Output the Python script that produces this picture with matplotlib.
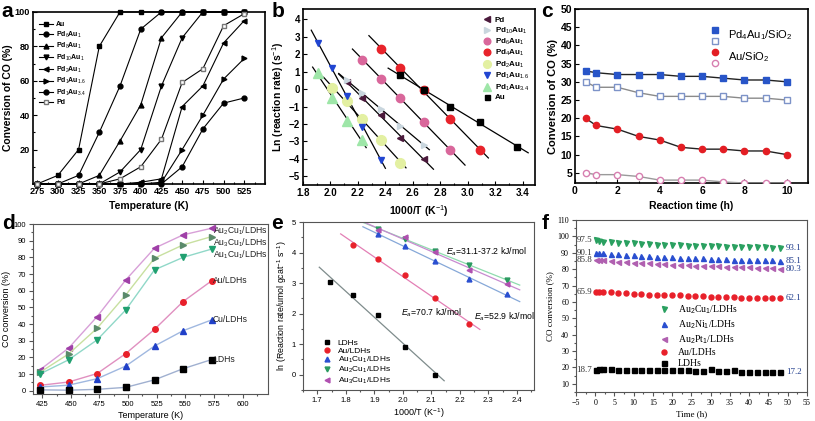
import numpy as np
import matplotlib.pyplot as plt
import matplotlib as mpl
from matplotlib.ticker import MultipleLocator

# =========================================================
# CO OXIDATION - SIX PANEL FIGURE
# =========================================================

mpl.rcParams['font.family'] = ['Liberation Sans', 'DejaVu Sans']
mpl.rcParams['mathtext.fontset'] = 'custom'
mpl.rcParams['mathtext.rm'] = 'Liberation Sans'
mpl.rcParams['mathtext.it'] = 'Liberation Sans:italic'
mpl.rcParams['mathtext.bf'] = 'Liberation Sans:bold'

# -----------------------------
# DATA - panel a
# -----------------------------
temp_a = [275, 300, 325, 350, 375, 400, 425, 450, 475, 500, 525]
a_labels = ["Au", "Pd$_6$Au$_1$", "Pd$_8$Au$_1$", "Pd$_{10}$Au$_1$", "Pd$_2$Au$_1$",
            "Pd$_1$Au$_{1.6}$", "Pd$_1$Au$_{3.4}$", "Pd"]
a_au = [0, 5, 20, 80, 100, 100, 100, 100, 100, 100, 100]
a_pd6au1 = [0, 0, 5, 30, 57, 90, 100, 100, 100, 100, 100]
a_pd8au1 = [0, 0, 0, 5, 25, 46, 85, 100, 100, 100, 100]
a_pd10au1 = [0, 0, 0, 0, 7, 20, 57, 85, 100, 100, 100]
a_pd2au1 = [0, 0, 0, 0, 0, 1, 3, 45, 57, 82, 95]
a_pd1au16 = [0, 0, 0, 0, 0, 0, 1, 20, 40, 61, 73]
a_pd1au34 = [0, 0, 0, 0, 0, 0, 0, 10, 32, 47, 50]
a_pd = [0, 0, 0, 0, 3, 10, 26, 59, 67, 92, 99]

# -----------------------------
# DATA - panel b (Arrhenius)
# -----------------------------
b_labels = ["Pd", "Pd$_{10}$Au$_1$", "Pd$_6$Au$_1$", "Pd$_4$Au$_1$", "Pd$_2$Au$_1$",
            "Pd$_1$Au$_{1.6}$", "Pd$_1$Au$_{3.4}$", "Au"]
b_x_pd = [2.12, 2.23, 2.37, 2.51, 2.68]
b_y_pd = [0.4, -0.5, -1.5, -2.8, -4.0]
b_x_pd10 = [2.12, 2.23, 2.37, 2.51, 2.68]
b_y_pd10 = [0.5, -0.22, -1.15, -2.1, -3.2]
b_x_pd6 = [2.23, 2.37, 2.51, 2.68, 2.87]
b_y_pd6 = [1.7, 0.6, -0.5, -1.9, -3.5]
b_x_pd4 = [2.37, 2.51, 2.68, 2.87, 3.09]
b_y_pd4 = [2.3, 1.2, -0.05, -1.7, -3.5]
b_x_pd2 = [2.01, 2.12, 2.23, 2.37, 2.51]
b_y_pd2 = [0.05, -0.7, -1.7, -2.9, -4.25]
b_x_pd16 = [1.91, 2.01, 2.12, 2.23, 2.37]
b_y_pd16 = [2.65, 1.2, -0.4, -2.15, -4.05]
b_x_pd34 = [1.91, 2.01, 2.12, 2.23]
b_y_pd34 = [0.9, -0.5, -1.8, -2.9]
b_x_au = [2.51, 2.68, 2.87, 3.09, 3.36]
b_y_au = [0.8, -0.05, -1.0, -1.9, -3.3]
# x extent of each fitted line
b_fit_range = [(2.06, 2.75), (2.06, 2.72), (2.16, 2.98), (2.28, 3.15),
               (1.95, 2.55), (1.86, 2.40), (1.87, 2.26), (2.42, 3.44)]

# -----------------------------
# DATA - panel c (stability)
# -----------------------------
time_c = [0.5, 1, 2, 3, 4, 5, 6, 7, 8, 9, 10]
c_pd4au1_a = [33, 32.5, 32, 32, 32, 31.5, 31.5, 31, 30.5, 30.5, 30]
c_pd4au1_b = [30, 28.5, 28.5, 27, 26, 26, 26, 26, 25.5, 25.5, 25]
c_au_a = [20, 18, 17, 15, 14, 12, 11.5, 11.5, 11, 11, 10]
c_au_b = [5, 4.5, 4.5, 4, 3, 3, 3, 2.5, 2.2, 2.2, 2.2]

# -----------------------------
# DATA - panel d (LDHs light-off)
# -----------------------------
temp_d = [423, 448, 473, 498, 523, 548, 573]
d_labels = ["Au$_2$Cu$_1$/LDHs", "Au$_3$Cu$_1$/LDHs", "Au$_1$Cu$_1$/LDHs",
            "Au/LDHs", "Cu/LDHs", "LDHs"]
d_au2cu1 = [12.5, 25.5, 44.5, 66.5, 85.5, 93.5, 97.5]
d_au3cu1 = [11, 22, 37.5, 57.5, 79.5, 87.5, 92.5]
d_au1cu1 = [10, 18.5, 30.5, 48.5, 72.5, 80, 85]
d_au = [3.2, 5.2, 10.3, 22.3, 36.8, 53.5, 66]
d_cu = [2.2, 3.3, 7.2, 14.8, 26.8, 36, 42.5]
d_ldh = [0.5, 0.3, 0.8, 2, 6.5, 13.2, 18.7]
d_label_y = [96, 89, 81.5, 66, 42.7, 18.5]

# -----------------------------
# DATA - panel e (Arrhenius, LDHs)
# -----------------------------
e_labels = ["LDHs", "Au/LDHs", "Au$_1$Cu$_1$/LDHs", "Au$_2$Cu$_1$/LDHs", "Au$_3$Cu$_1$/LDHs"]
e_x_ldh = [1.745, 1.825, 1.912, 2.008, 2.114]
e_y_ldh = [3.05, 2.6, 1.96, 0.92, 0.0]
e_x_au = [1.825, 1.912, 2.008, 2.114, 2.232]
e_y_au = [4.25, 3.8, 3.27, 2.52, 1.65]
e_x_cu = [1.912, 2.008, 2.114, 2.232, 2.364]
e_y_au1cu1 = [4.6, 4.22, 3.72, 3.13, 2.63]
e_y_au2cu1 = [4.78, 4.45, 4.05, 3.6, 3.1]
e_y_au3cu1 = [4.73, 4.5, 4.02, 3.43, 2.98]
e_fit_range = [(1.707, 2.145), (1.782, 2.27), (1.86, 2.41), (1.86, 2.41), (1.86, 2.41)]
e_notes = ["$E_a$=70.7 kJ/mol", "$E_a$=52.9 kJ/mol", "$E_a$=31.1-37.2 kJ/mol"]

# -----------------------------
# DATA - panel f (long-term stability)
# -----------------------------
time_f = [0.3, 1, 2] + list(range(4, 50, 2))
f_labels = ["Au$_2$Cu$_1$/LDHs", "Au$_2$Ni$_1$/LDHs", "Au$_2$Pt$_1$/LDHs", "Au/LDHs", "LDHs"]
f_au2cu1 = [97.5, 97.0, 96.8, 96.5, 96.0, 95.8, 95.8, 95.6, 95.2, 95.0, 94.8, 94.8, 94.7,
            94.3, 94.2, 94.0, 94.0, 94.0, 93.8, 93.5, 93.5, 93.3, 93.3, 93.2, 93.1, 93.1]
f_au2ni1 = [90.1, 90.0, 89.6, 89.2, 89.0, 88.6, 88.4, 88.0, 88.0, 87.7, 87.6, 87.3, 87.0,
            86.8, 87.0, 86.5, 86.2, 86.0, 85.9, 85.8, 85.6, 85.5, 85.5, 85.4, 85.3, 85.1]
f_au2pt1 = [85.8, 85.5, 85.4, 85.0, 84.6, 84.4, 84.0, 83.8, 83.5, 83.3, 83.3, 82.8, 82.5,
            82.3, 82.1, 82.0, 81.8, 81.6, 81.5, 81.3, 81.2, 81.0, 80.8, 80.6, 80.4, 80.3]
f_au = [65.9, 66.0, 66.1, 65.9, 65.6, 65.3, 65.0, 64.8, 64.5, 64.4, 64.2, 64.0, 63.9,
        63.6, 63.5, 63.3, 63.2, 63.0, 62.9, 62.8, 62.6, 62.5, 62.4, 62.3, 62.2, 62.1]
f_ldh = [18.7, 18.9, 19.0, 18.9, 18.7, 18.6, 18.5, 18.6, 18.4, 18.4, 18.3, 18.3, 18.2,
         18.2, 18.1, 18.0, 18.9, 17.8, 17.7, 18.7, 17.5, 17.4, 17.3, 17.2, 17.2, 17.2]
f_start = ["97.5", "90.1", "85.8", "65.9", "18.7"]
f_end = ["93.1", "85.1", "80.3", "62.1", "17.2"]

# =========================================================
# FIGURE
# =========================================================
fig = plt.figure(figsize=(8.15, 4.21), dpi=100)
fig.patch.set_facecolor('white')

ax_a = fig.add_axes([0.0405, 0.563, 0.2847, 0.4086])
ax_b = fig.add_axes([0.3718, 0.5606, 0.2847, 0.418])
ax_c = fig.add_axes([0.7055, 0.5653, 0.2859, 0.4133])
ax_d = fig.add_axes([0.0405, 0.0641, 0.2883, 0.4038])
ax_e = fig.add_axes([0.3718, 0.0736, 0.2834, 0.399])
ax_f = fig.add_axes([0.7067, 0.0689, 0.2834, 0.4086])


def origin_style(ax, lw=1.2, color='black', size=7, bold=True):
    for s in ax.spines.values():
        s.set_linewidth(lw)
        s.set_color(color)
    ax.tick_params(which='both', direction='in', top=False, right=False,
                   labelsize=size, width=0.8, color=color, pad=2)
    ax.tick_params(which='major', length=3)
    ax.tick_params(which='minor', length=1.5)
    if bold:
        for lab in ax.get_xticklabels() + ax.get_yticklabels():
            lab.set_fontweight('bold')


# -----------------------------
# PANEL a
# -----------------------------
a_series = [a_au, a_pd6au1, a_pd8au1, a_pd10au1, a_pd2au1, a_pd1au16, a_pd1au34, a_pd]
a_markers = ['s', 'o', '^', 'v', '<', '>', 'o', 's']
for vals, mk, lab in zip(a_series, a_markers, a_labels):
    if lab == "Pd":
        ax_a.plot(temp_a, vals, marker=mk, color='black', lw=0.8, ms=3.5,
                  mfc='white', mec='#777777', label=lab, clip_on=False, zorder=3)
    else:
        ax_a.plot(temp_a, vals, marker=mk, color='black', lw=0.8, ms=3.5,
                  label=lab, clip_on=False)
ax_a.set_xlim(270, 550)
ax_a.set_ylim(0, 100)
ax_a.set_xticks(range(275, 526, 25))
ax_a.set_yticks([20, 40, 60, 80, 100])
ax_a.xaxis.set_minor_locator(MultipleLocator(12.5))
ax_a.yaxis.set_minor_locator(MultipleLocator(10))
origin_style(ax_a, size=6.6)
ax_a.set_xlabel("Temperature (K)", fontsize=7.5, fontweight='bold', labelpad=4)
ax_a.set_ylabel("Conversion of CO (%)", fontsize=7.5, fontweight='bold', labelpad=1)
leg = ax_a.legend(loc='upper left', bbox_to_anchor=(0.01, 0.97), frameon=False,
                  fontsize=5, handlelength=2.0, labelspacing=0.2, handletextpad=0.4,
                  borderaxespad=0.2)
for t in leg.get_texts():
    t.set_fontweight('bold')

# -----------------------------
# PANEL b
# -----------------------------
b_xs = [b_x_pd, b_x_pd10, b_x_pd6, b_x_pd4, b_x_pd2, b_x_pd16, b_x_pd34, b_x_au]
b_ys = [b_y_pd, b_y_pd10, b_y_pd6, b_y_pd4, b_y_pd2, b_y_pd16, b_y_pd34, b_y_au]
b_markers = ['<', '>', 'o', 'o', 'o', 'v', '^', 's']
b_colors = ['#4b1a3c', '#c9d6de', '#d9679b', '#e8232b', '#e3f0a2', '#2145d1', '#9ee6a8', 'black']
b_sizes = [5, 5, 6, 6, 7, 5, 7, 4.5]
for xs, ys, rng in zip(b_xs, b_ys, b_fit_range):
    k, c0 = np.polyfit(xs, ys, 1)
    xx = np.array(rng)
    ax_b.plot(xx, k * xx + c0, color='black', lw=0.9, zorder=2)
for xs, ys, mk, col, ms, lab in zip(b_xs, b_ys, b_markers, b_colors, b_sizes, b_labels):
    ax_b.plot(xs, ys, ls='none', marker=mk, color=col, ms=ms, label=lab, zorder=3)
ax_b.set_xlim(1.8, 3.49)
ax_b.set_ylim(-5.5, 4.6)
ax_b.xaxis.set_major_locator(MultipleLocator(0.2))
ax_b.xaxis.set_minor_locator(MultipleLocator(0.1))
ax_b.set_yticks(range(-5, 5))
ax_b.xaxis.set_major_formatter(mpl.ticker.FormatStrFormatter('%.1f'))
origin_style(ax_b, size=7)
ax_b.set_xlabel("1000/T (K$^{-1}$)", fontsize=7.5, fontweight='bold', labelpad=4)
ax_b.set_ylabel("Ln (reaction rate) (s$^{-1}$)", fontsize=7.5, fontweight='bold', labelpad=2)
leg = ax_b.legend(loc='upper right', bbox_to_anchor=(0.995, 0.985), frameon=False,
                  fontsize=5.8, handlelength=0.8, labelspacing=0.15, handletextpad=0.6,
                  borderaxespad=0.2, markerscale=0.8)
for t in leg.get_texts():
    t.set_fontweight('bold')

# -----------------------------
# PANEL c
# -----------------------------
ax_c.plot(time_c, c_pd4au1_a, color='#222222', lw=1, marker='s', ms=4,
          mfc='#2855c8', mec='#2855c8', zorder=3)
ax_c.plot(time_c, c_pd4au1_b, color='#8a8a8a', lw=1, marker='s', ms=4,
          mfc='white', mec='#7d93c8', zorder=3)
ax_c.plot(time_c, c_au_a, color='#222222', lw=1, marker='o', ms=4.5,
          mfc='#e31e24', mec='#e31e24', zorder=3)
ax_c.plot(time_c, c_au_b, color='#9a9a9a', lw=1, marker='o', ms=4.5,
          mfc='white', mec='#d77fb0', zorder=3)
ax_c.set_xlim(0, 11)
ax_c.set_ylim(2.2, 50)
ax_c.set_xticks(range(0, 11, 2))
ax_c.set_yticks(range(5, 51, 5))
ax_c.xaxis.set_minor_locator(MultipleLocator(1))
origin_style(ax_c, size=7.5)
ax_c.set_xlabel("Reaction time (h)", fontsize=7.5, fontweight='bold', labelpad=4)
ax_c.set_ylabel("Conversion of CO (%)", fontsize=8, fontweight='bold', labelpad=2)
# legend drawn by hand: two markers share one label
c_leg_marks = [('s', '#2855c8', '#2855c8', 0.88), ('s', 'white', '#7d93c8', 0.815),
               ('o', '#e31e24', '#e31e24', 0.755), ('o', 'white', '#d77fb0', 0.69)]
for mk, fc, ec, yy in c_leg_marks:
    ax_c.plot([0.6], [yy], transform=ax_c.transAxes, marker=mk, ms=4.5, mfc=fc, mec=ec,
              ls='none', clip_on=False)
ax_c.text(0.655, 0.848, "Pd$_4$Au$_1$/SiO$_2$", transform=ax_c.transAxes,
          fontsize=8, va='center')
ax_c.text(0.655, 0.722, "Au/SiO$_2$", transform=ax_c.transAxes, fontsize=8, va='center')

# -----------------------------
# PANEL d
# -----------------------------
d_series = [d_au2cu1, d_au3cu1, d_au1cu1, d_au, d_cu, d_ldh]
d_markers = ['<', '>', 'v', 'o', '^', 's']
d_mcolors = ['#a040a8', '#5a8a6a', '#20a070', '#e8202a', '#2040c8', 'black']
d_lcolors = ['#d8a0d8', '#c8e0a0', '#90d8c8', '#e090c0', '#a0b8e0', '#a0b0d0']
for vals, mk, mc, lc in zip(d_series, d_markers, d_mcolors, d_lcolors):
    ax_d.plot(temp_d, vals, color=lc, lw=1, marker=mk, ms=4, mfc=mc, mec=mc)
for lab, yy in zip(d_labels, d_label_y):
    ax_d.text(temp_d[-1] + 1, yy, lab, fontsize=6.2, va='center', color='#222222')
ax_d.set_xlim(417, 622)
ax_d.set_ylim(-2, 100)
ax_d.set_xticks(range(425, 601, 25))
ax_d.set_yticks(range(0, 101, 10))
ax_d.xaxis.set_minor_locator(MultipleLocator(12.5))
ax_d.yaxis.set_minor_locator(MultipleLocator(5))
origin_style(ax_d, lw=0.8, color='#555555', size=5.5, bold=False)
ax_d.tick_params(which='both', direction='out')
ax_d.set_xlabel("Temperature (K)", fontsize=6.5, labelpad=2)
ax_d.set_ylabel("CO conversion (%)", fontsize=6.5, labelpad=2)

# -----------------------------
# PANEL e
# -----------------------------
e_xs = [e_x_ldh, e_x_au, e_x_cu, e_x_cu, e_x_cu]
e_ys = [e_y_ldh, e_y_au, e_y_au1cu1, e_y_au2cu1, e_y_au3cu1]
e_markers = ['s', 'o', '^', 'v', '<']
e_mcolors = ['black', '#e8202a', '#2a4fd0', '#2a9a60', '#b050b0']
e_lcolors = ['#7f8c8c', '#e37fb5', '#86a8d8', '#8fdcae', '#c88ad0']
for xs, ys, rng, lc in zip(e_xs, e_ys, e_fit_range, e_lcolors):
    k, c0 = np.polyfit(xs, ys, 1)
    xx = np.array(rng)
    ax_e.plot(xx, k * xx + c0, color=lc, lw=0.9, zorder=2)
for xs, ys, mk, mc, lab in zip(e_xs, e_ys, e_markers, e_mcolors, e_labels):
    ax_e.plot(xs, ys, ls='none', marker=mk, color=mc, ms=3.5, label=lab, zorder=3)
ax_e.text(1.994, 2.02, e_notes[0], fontsize=6.3, va='center')
ax_e.text(2.25, 1.89, e_notes[1], fontsize=6.3, va='center')
ax_e.text(2.152, 4.04, e_notes[2], fontsize=6.3, va='center')
ax_e.set_xlim(1.65, 2.46)
ax_e.set_ylim(-0.5, 5)
ax_e.xaxis.set_major_locator(MultipleLocator(0.1))
ax_e.xaxis.set_minor_locator(MultipleLocator(0.05))
ax_e.yaxis.set_minor_locator(MultipleLocator(0.5))
ax_e.set_yticks(range(0, 6))
ax_e.xaxis.set_major_formatter(mpl.ticker.FormatStrFormatter('%.1f'))
origin_style(ax_e, lw=0.8, color='#555555', size=5.5, bold=False)
ax_e.tick_params(which='both', direction='out')
ax_e.set_xlabel("1000/T (K$^{-1}$)", fontsize=6.5, labelpad=2)
ax_e.set_ylabel("ln (Reaction rate/umol gcat$^{-1}$ s$^{-1}$)", fontsize=6.3, labelpad=2)
ax_e.legend(loc='lower left', bbox_to_anchor=(0.07, 0.0), frameon=False, fontsize=6,
            handlelength=0.8, labelspacing=0.02, handletextpad=0.9, borderaxespad=0.1)

# -----------------------------
# PANEL f
# -----------------------------
serif = ['Liberation Serif', 'DejaVu Serif']
f_series = [f_au2cu1, f_au2ni1, f_au2pt1, f_au, f_ldh]
f_markers = ['v', '^', '<', 'o', 's']
f_colors = ['#2aa060', '#2a4fd0', '#b060b0', '#e8202a', 'black']
for vals, mk, col, lab, s0, s1 in zip(f_series, f_markers, f_colors, f_labels, f_start, f_end):
    ax_f.plot(time_f, vals, ls='none', marker=mk, color=col, ms=3.6, label=lab)
    ax_f.text(-0.8, vals[0], s0, fontsize=6.5, family=serif, ha='right', va='center',
              color='#333333')
    ax_f.text(49.5, vals[-1], s1, fontsize=6.5, family=serif, ha='left', va='center',
              color='#1f3c8c')
ax_f.set_xlim(-5, 55)
ax_f.set_ylim(5, 110)
ax_f.set_xticks(range(-5, 56, 5))
ax_f.set_yticks(range(10, 111, 10))
ax_f.xaxis.set_minor_locator(MultipleLocator(2.5))
ax_f.yaxis.set_minor_locator(MultipleLocator(5))
origin_style(ax_f, lw=0.8, color='#555555', size=5.8, bold=False)
ax_f.tick_params(which='both', direction='out')
for lab in ax_f.get_xticklabels() + ax_f.get_yticklabels():
    lab.set_family(serif)
ax_f.set_xlabel("Time (h)", fontsize=6.5, family=serif, labelpad=2)
ax_f.set_ylabel("CO conversion (%)", fontsize=6.5, family=serif, labelpad=2)
ax_f.legend(loc='upper left', bbox_to_anchor=(0.36, 0.515), frameon=False,
            handlelength=1.0, labelspacing=0.22, handletextpad=0.9,
            borderaxespad=0, borderpad=0, prop={'family': serif, 'size': 7})

# -----------------------------
# PANEL LETTERS
# -----------------------------
for x, y, s in [(0.002, 0.972, 'a'), (0.333, 0.972, 'b'), (0.664, 0.972, 'c'),
                (0.002, 0.468, 'd'), (0.333, 0.468, 'e'), (0.664, 0.468, 'f')]:
    fig.text(x, y, s, fontsize=15, fontweight='bold', va='center', ha='left')

fig.savefig("out.png", dpi=100)
